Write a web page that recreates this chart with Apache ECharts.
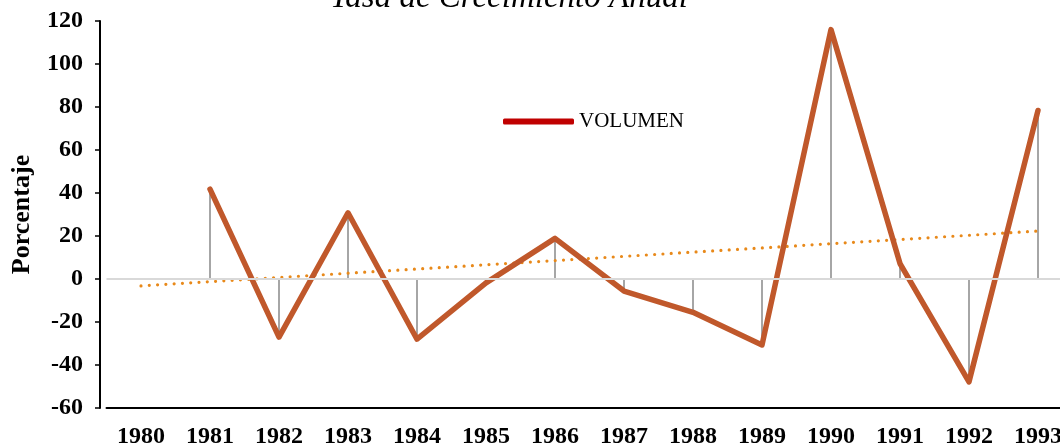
<!DOCTYPE html>
<html>
<head>
<meta charset="utf-8">
<script src="https://cdn.jsdelivr.net/npm/echarts@6/dist/echarts.min.js"></script>
<style>
  body { margin: 0; background: #fff; }
  #main { width: 1060px; height: 448px; }
</style>
</head>
<body>
<div id="main"></div>
<script>
// datos
var years = ['1980', '1981', '1982', '1983', '1984', '1985', '1986', '1987', '1988', '1989', '1990', '1991', '1992', '1993'];
var volumen = [null, 41.8, -27, 30.8, -28, -1.8, 18.9, -5.6, -15.5, -30.7, 116, 7.2, -47.8, 78.4];
// tendencia lineal: solo los extremos
var tendencia = [-3.2, null, null, null, null, null, null, null, null, null, null, null, null, 22.3];
var yTicks = { min: -60, max: 120, step: 20 };

var serif = 'Liberation Serif';

var chart = echarts.init(document.getElementById('main'));

var option = {
  animation: false,
  title: {
    text: 'Tasa de Crecimiento Anual',
    left: 325,
    top: -23,
    textStyle: { fontFamily: serif, fontStyle: 'italic', fontWeight: 'normal', fontSize: 33, color: '#000' }
  },
  legend: {
    left: 498,
    top: 106,
    icon: 'roundRect',
    itemWidth: 71,
    itemHeight: 6,
    itemGap: 6,
    textStyle: { fontFamily: serif, fontSize: 21, color: '#000' },
    data: [{ name: 'VOLUMEN', itemStyle: { color: '#c00000' } }]
  },
  grid: { left: 106.5, top: 21, width: 966, height: 387, outerBoundsMode: 'none' },
  xAxis: {
    type: 'category',
    data: years,
    boundaryGap: true,
    axisLine: { onZero: false, lineStyle: { color: '#000', width: 2 } },
    axisTick: { show: false },
    axisLabel: { margin: 17, fontFamily: serif, fontWeight: 'bold', fontSize: 24, color: '#000' }
  },
  yAxis: {
    type: 'value',
    min: yTicks.min,
    max: yTicks.max,
    interval: yTicks.step,
    offset: 6.5,
    name: 'Porcentaje',
    nameLocation: 'middle',
    nameGap: 65,
    nameTextStyle: { fontFamily: serif, fontWeight: 'bold', fontSize: 26, color: '#000' },
    axisLine: { show: true, lineStyle: { color: '#000', width: 2 } },
    axisTick: { show: true, length: 5, lineStyle: { color: '#000', width: 1.5 } },
    splitLine: { show: false },
    axisLabel: {
      margin: 17,
      fontFamily: serif, fontWeight: 'bold', fontSize: 24, color: '#000',
      formatter: function (v) { return String(v); }
    }
  },
  series: [
    {
      name: 'caida',
      type: 'bar',
      data: volumen,
      barWidth: 2,
      itemStyle: { color: '#a6a6a6' },
      z: 1,
      markLine: {
        silent: true,
        symbol: 'none',
        label: { show: false },
        lineStyle: { color: '#d9d9d9', width: 2, type: 'solid' },
        data: [{ yAxis: 0 }]
      }
    },
    {
      name: 'tendencia',
      type: 'line',
      data: tendencia,
      connectNulls: true,
      showSymbol: false,
      lineStyle: { color: '#e8891a', width: 3.2, type: [0, 8.3], cap: 'round' },
      z: 2
    },
    {
      name: 'VOLUMEN',
      type: 'line',
      data: volumen,
      showSymbol: false,
      lineStyle: { color: '#c0582b', width: 5.5, join: 'round', cap: 'round' },
      itemStyle: { color: '#c0582b' },
      z: 3
    }
  ]
};

chart.setOption(option);
</script>
</body>
</html>
